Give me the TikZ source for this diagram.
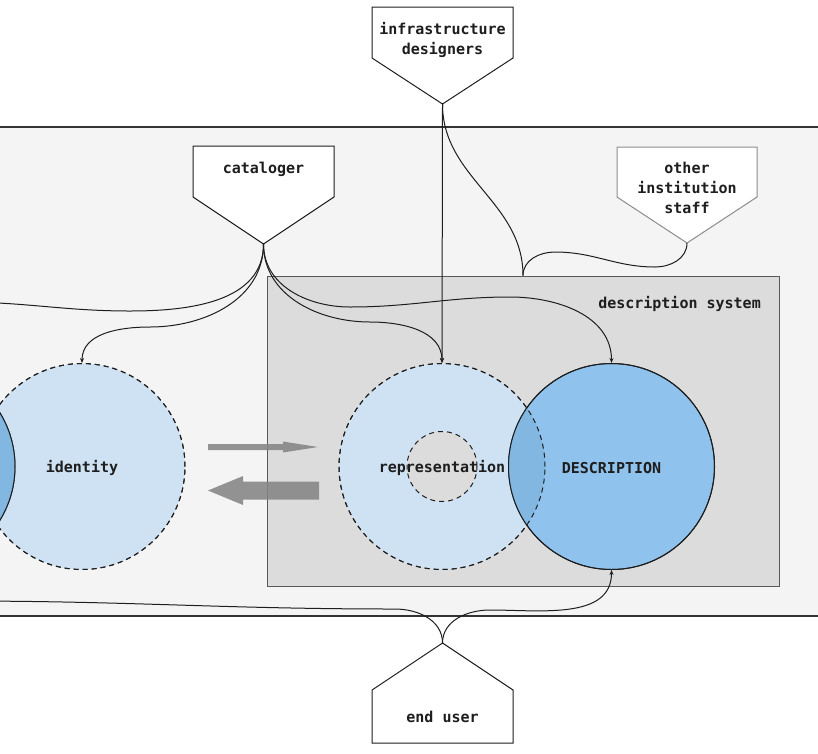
\documentclass[tikz,border=0pt]{standalone}
\usepackage{fontspec}
\setmonofont{DejaVu Sans Mono}
\usetikzlibrary{arrows.meta}

\definecolor{ink}{HTML}{1E1E1E}
\definecolor{bandgray}{HTML}{F4F4F4}
\definecolor{sysgray}{HTML}{DCDCDC}
\definecolor{paleblue}{HTML}{CFE2F3}
\definecolor{midblue}{HTML}{8FC2EC}
\definecolor{mixblue}{HTML}{82B7E1}

\begin{document}
\begin{tikzpicture}[x=1pt, y=-1pt,
  every node/.style={font=\ttfamily\bfseries\fontsize{15}{20}\selectfont, text=ink, inner sep=0pt},
  actor/.style={draw=ink, fill=white, line width=1pt},
  who/.style={align=center},
  facet/.style={circle, minimum size=206pt, fill=paleblue, draw=ink, line width=1pt, dash pattern=on 5pt off 4pt},
  record/.style={circle, minimum size=206pt, fill=midblue, draw=ink, line width=1pt},
  link/.style={draw=ink, line width=1pt},
  tip/.style={-{Stealth[length=5pt,width=4pt]}},
  fat/.style={fill=black!48, fill opacity=0.88}]
\useasboundingbox (0,0) rectangle (818,753);

% institution band, description system inside it
\draw[fill=bandgray, draw=black!80, line width=1.3pt] (-20,127) rectangle (840,616);
\node[fill=sysgray, draw=black!65, line width=0.8pt, minimum width=512pt, minimum height=310pt] (sys) at (523,431) {};
\node[anchor=east] (syslabel) at (761,304) {description system};

% people
\draw[actor] (372,7) -- (513,7) -- (513,58) -- (442.5,104) coordinate (infratip) -- (372,58) -- cycle;
\node[who] (infra) at (442.5,40) {infrastructure\\designers};
\draw[actor] (193,146) -- (334,146) -- (334,197) -- (263.5,244) coordinate (cattip) -- (193,197) -- cycle;
\node[who] (cat) at (263.5,169) {cataloger};
\draw[actor, draw=black!45] (617,147) -- (757,147) -- (757,197) -- (687,243) coordinate (othertip) -- (617,197) -- cycle;
\node[who] (other) at (687,188) {other\\institution\\staff};
\draw[actor] (372,743) -- (372,690) -- (442.5,643) coordinate (usertip) -- (513,690) -- (513,743) -- cycle;
\node[who] (user) at (442.5,716.5) {end user};

% identity, with the record beyond the left edge
\node[facet] (ident) at (82,466.5) {};
\node[record] (elsewhere) at (-88,466.5) {};
\begin{scope}
  \clip (ident) circle (103pt);
  \fill[mixblue] (elsewhere) circle (103pt);
\end{scope}
\node[facet, fill=none] (identrim) at (ident) {};
\node[record, fill=none] (elsewhererim) at (elsewhere) {};
\node (identlabel) at ([yshift=-1.5pt]ident) {identity};

% representation and DESCRIPTION
\node[facet] (rep) at (442,466.5) {};
\node[record] (desc) at (611.5,466.5) {};
\begin{scope}
  \clip (rep) circle (103pt);
  \fill[mixblue] (desc) circle (103pt);
\end{scope}
\node[facet, fill=none] (reprim) at (rep) {};
\node[record, fill=none] (descrim) at (desc) {};
\node[facet, fill=sysgray, minimum size=70pt] (core) at (rep) {};
\node (replabel) at ([yshift=-1.5pt]rep) {representation};
\node (desclabel) at ([yshift=-1.5pt]desc) {DESCRIPTION};

% the two broad arrows
\fill[fat] (208,444) -- (283,444) -- (283,441.5) -- (318,447) -- (283,452.5) -- (283,450) -- (208,450) -- cycle;
\fill[fat] (319,481.5) -- (243,481.5) -- (243,476) -- (208,490.5) -- (243,505) -- (243,499.5) -- (319,499.5) -- cycle;

% connectors
\coordinate (catout) at (-40,302);
\coordinate (userout) at (-40,601);
\draw[link] (cattip) to[out=-90,in=0] (130,311) to[out=180,in=0] (catout);
\draw[link, tip] (cattip) to[out=-90,in=0] (150,327) to[out=180,in=90] (ident.north);
\draw[link, tip] (cattip) to[out=-90,in=180] (370,322) to[out=0,in=90] (rep.north);
\draw[link, tip] (cattip) to[out=-90,in=180] (350,307) to[out=0,in=180] (510,297) to[out=0,in=90] (desc.north);
\draw[link, tip] (infratip) -- (rep.north);
\draw[link] (infratip) to[out=-90,in=90] (sys.north);
\draw[link] (othertip) to[out=-90,in=0] (655,267) to[out=180,in=0] (555,252) to[out=180,in=90] (sys.north);
\draw[link] (usertip) to[out=90,in=0] (395,609) to[out=180,in=0] (userout);
\draw[link, tip] (usertip) to[out=90,in=180] (490,610) to[out=0,in=-90] (desc.south);
\end{tikzpicture}
\end{document}
